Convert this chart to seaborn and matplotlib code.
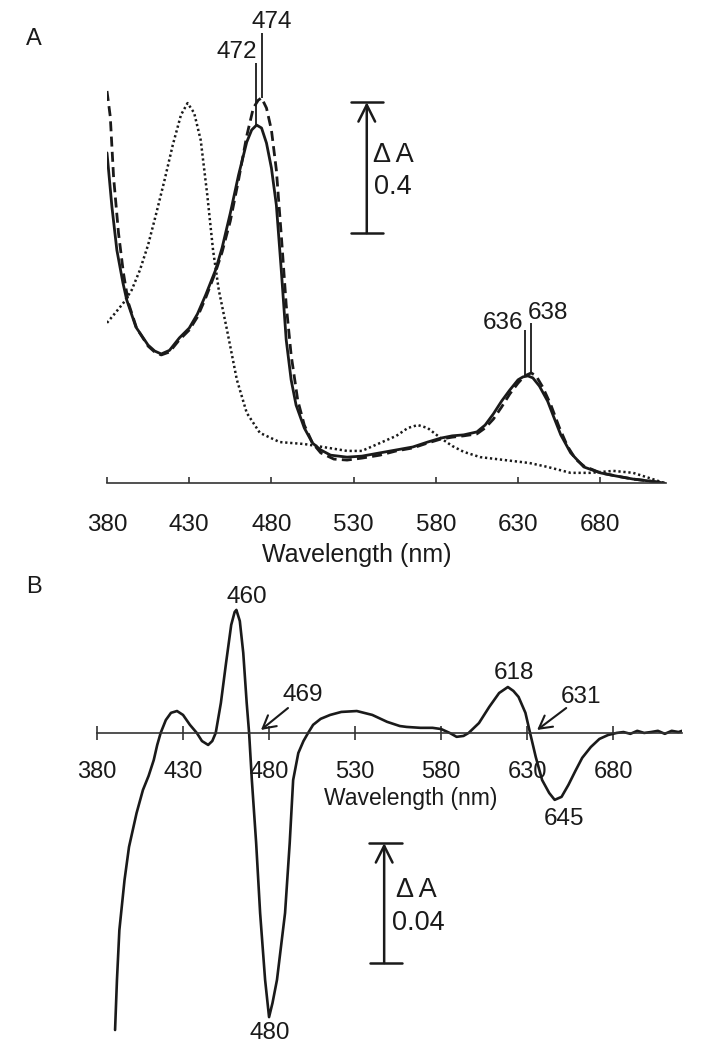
import matplotlib
matplotlib.use("Agg")
import matplotlib.pyplot as plt
import seaborn as sns

# ---------------- data ----------------
ticks = [380, 430, 480, 530, 580, 630, 680]

# Panel A : absorbance spectra
wl_solid = [380, 383, 386, 389.7, 392, 397.6, 405, 409, 413, 418, 424, 430, 435, 440, 446,
            450, 455, 460, 465, 468, 471, 474, 477, 480, 483, 486, 489, 492, 495, 500,
            505, 510, 516, 526, 535, 546, 556, 566, 575, 583, 590, 597, 605, 610, 615,
            620, 625, 630, 633, 636, 639, 643, 648, 652, 656, 662, 670, 680, 690, 700,
            710, 719]
abs_solid = [1.008, 0.843, 0.711, 0.611, 0.559, 0.476, 0.421, 0.403, 0.394, 0.405, 0.443,
             0.473, 0.516, 0.574, 0.650, 0.718, 0.824, 0.940, 1.041, 1.078, 1.093, 1.084,
             1.038, 0.962, 0.849, 0.650, 0.437, 0.315, 0.238, 0.168, 0.122, 0.101, 0.085,
             0.079, 0.082, 0.092, 0.101, 0.110, 0.125, 0.137, 0.144, 0.147, 0.156, 0.177,
             0.211, 0.250, 0.284, 0.315, 0.324, 0.327, 0.321, 0.296, 0.250, 0.198, 0.147,
             0.092, 0.049, 0.031, 0.021, 0.012, 0.006, 0.0]

wl_dashed = [380, 382, 384, 387, 390, 393, 398, 405, 409, 413, 418, 424, 430, 435, 440,
             446, 450, 455, 460, 465, 469, 472, 474, 477, 480, 483, 486, 489, 492, 496,
             500, 505, 510, 518, 526, 535, 546, 556, 566, 575, 583, 590, 597, 605, 610,
             615, 620, 625, 630, 634, 638, 641, 645, 650, 655, 660, 665, 670, 680, 690,
             700, 710, 719]
abs_dashed = [1.197, 1.118, 0.934, 0.763, 0.641, 0.550, 0.473, 0.418, 0.400, 0.391, 0.400,
              0.437, 0.467, 0.507, 0.565, 0.644, 0.705, 0.800, 0.925, 1.060, 1.145, 1.169,
              1.176, 1.145, 1.078, 0.956, 0.757, 0.544, 0.391, 0.253, 0.177, 0.122, 0.092,
              0.073, 0.070, 0.076, 0.085, 0.098, 0.107, 0.122, 0.134, 0.140, 0.144, 0.150,
              0.168, 0.195, 0.232, 0.272, 0.305, 0.327, 0.336, 0.327, 0.293, 0.238, 0.171,
              0.113, 0.073, 0.052, 0.031, 0.021, 0.012, 0.006, 0.0]

wl_dotted = [380, 385, 390, 395, 400, 405, 410, 415, 420, 425, 429, 433, 437, 441, 444.5,
             448, 453, 459, 465, 473, 485, 500, 515, 526, 535, 546, 556, 563, 569, 575,
             583, 590, 597, 607, 617, 627, 637, 648, 662, 674, 688, 700, 710, 719]
abs_dotted = [0.489, 0.519, 0.550, 0.589, 0.650, 0.727, 0.824, 0.925, 1.032, 1.124, 1.160,
              1.130, 1.047, 0.879, 0.711, 0.589, 0.467, 0.315, 0.214, 0.153, 0.125, 0.119,
              0.107, 0.098, 0.098, 0.122, 0.144, 0.168, 0.177, 0.168, 0.137, 0.113, 0.095,
              0.079, 0.073, 0.067, 0.061, 0.049, 0.031, 0.031, 0.037, 0.031, 0.015, 0.0]

# Panel B : difference spectrum
wl_diff = [390.5, 391.6, 393, 396, 398.6, 403, 406.7, 410, 413, 415, 417, 420, 423, 426.5,
           430, 434, 438, 441, 444.6, 447, 449, 452, 455, 458, 460, 461, 463, 465, 467,
           468.4, 470, 472.5, 474.8, 477.7, 480, 482, 484.6, 489.3, 492, 494, 497, 500,
           502.7, 505.6, 510, 515.5, 522, 531, 540, 548.6, 556, 560, 568, 575, 580, 585,
           589, 593, 596, 602, 608, 613.7, 618.8, 622, 625, 629, 631.7, 635, 638.7, 642.8,
           646, 650, 654, 658, 662, 667, 672, 677, 682, 686, 690, 694, 698, 702, 706, 710,
           714, 718, 720]
dA_diff = [-0.0990, -0.0823, -0.0657, -0.0490, -0.0380, -0.0267, -0.0190, -0.0143, -0.0090,
           -0.0040, 0.0, 0.0043, 0.0067, 0.0073, 0.0060, 0.0027, 0.0, -0.0027, -0.0040,
           -0.0027, 0.0, 0.0100, 0.0233, 0.0360, 0.0403, 0.0410, 0.0373, 0.0267, 0.0100,
           0.0, -0.0157, -0.0367, -0.0600, -0.0823, -0.0947, -0.0900, -0.0823, -0.0600,
           -0.0367, -0.0157, -0.0067, -0.0027, 0.0, 0.0027, 0.0047, 0.0060, 0.0070, 0.0073,
           0.0060, 0.0037, 0.0023, 0.0020, 0.0017, 0.0017, 0.0013, 0.0, -0.0013, -0.0010,
           0.0, 0.0033, 0.0087, 0.0133, 0.0153, 0.0140, 0.0120, 0.0067, 0.0, -0.0080,
           -0.0157, -0.0200, -0.0223, -0.0213, -0.0173, -0.0127, -0.0083, -0.0047, -0.0020,
           -0.0007, 0.0, 0.0003, -0.0003, 0.0007, 0.0, 0.0003, 0.0007, -0.0003, 0.0007,
           0.0003, 0.0007]

# peak annotations panel A: (label, line x, line y0, line y1, text x, text y, ha)
peaks_A = [("472", 470.8, 1.093, 1.282, 471.0, 1.316, "right"),
           ("474", 474.3, 1.176, 1.374, 480.4, 1.408, "center"),
           ("636", 634.2, 0.327, 0.467, 633.2, 0.489, "right"),
           ("638", 637.9, 0.336, 0.489, 636.2, 0.519, "left")]
# panel B labels: (label, x, y)
labels_B = [("460", 467.2, 0.0453), ("618", 622.4, 0.0200), ("645", 651.5, -0.0287),
            ("480", 480.6, -0.1000)]
# panel B arrow labels: (label, text x, text y, arrow start, arrow tip)
arrows_B = [("469", 499.8, 0.0127, (491.0, 0.0083), (475.3, 0.0010)),
            ("631", 661.4, 0.0120, (652.7, 0.0083), (635.8, 0.0010))]

# ---------------- style ----------------
sns.set_theme(style="white")
plt.rcParams["font.family"] = ["Liberation Sans", "DejaVu Sans"]
INK = "#1a1a1a"

fig = plt.figure(figsize=(7.09, 10.5), dpi=100)
axA = fig.add_axes([107 / 709, 567 / 1050, 559 / 709, 478.15 / 1050])
axB = fig.add_axes([97 / 709, 5 / 1050, 585 / 709, 475 / 1050])

# ---------------- panel A ----------------
sns.lineplot(x=wl_dotted, y=abs_dotted, ax=axA, color=INK, lw=1.8,
             linestyle=(0, (0.9, 1.1)), estimator=None, sort=False)
sns.lineplot(x=wl_dashed, y=abs_dashed, ax=axA, color=INK, lw=2.0,
             linestyle=(0, (3.6, 1.9)), estimator=None, sort=False)
sns.lineplot(x=wl_solid, y=abs_solid, ax=axA, color=INK, lw=2.0,
             estimator=None, sort=False)

axA.set_xlim(380, 720)
axA.set_ylim(0, 1.46)
axA.set_yticks([])
axA.set_xticks(ticks)
axA.set_xticklabels([str(t) for t in ticks])
for s in ["left", "right", "top"]:
    axA.spines[s].set_visible(False)
axA.spines["bottom"].set_color("#333333")
axA.spines["bottom"].set_linewidth(1.2)
axA.tick_params(axis="x", direction="in", length=4.5, width=1.2, color="#333333",
                pad=22, labelsize=17.5, labelcolor=INK, bottom=True)
axA.set_xlabel("Wavelength (nm)", fontsize=18, color=INK)
axA.xaxis.set_label_coords(0.447, -0.1506)
axA.xaxis.label.set_verticalalignment("center")

for lab, lx, y0, y1, tx, ty, ha in peaks_A:
    axA.plot([lx, lx], [y0, y1], color=INK, lw=1.3, solid_capstyle="butt")
    axA.text(tx, ty, lab, ha=ha, va="center", fontsize=17.5, color=INK)

# scale bar A (0.4)
axA.plot([528.3, 547.9], [1.163, 1.163], color=INK, lw=1.8)
axA.plot([528.3, 547.9], [0.763, 0.763], color=INK, lw=1.8)
axA.annotate("", xy=(538.0, 1.163), xytext=(538.0, 0.763),
             arrowprops=dict(arrowstyle="->,head_length=1.2,head_width=0.6",
                             mutation_scale=10, lw=1.8, color=INK,
                             shrinkA=0, shrinkB=0))
axA.text(541.5, 1.0015, "Δ A", ha="left", va="center", fontsize=19.5, color=INK)
axA.text(542.5, 0.904, "0.4", ha="left", va="center", fontsize=19.5, color=INK)

# ---------------- panel B ----------------
sns.lineplot(x=wl_diff, y=dA_diff, ax=axB, color=INK, lw=1.9,
             estimator=None, sort=False)
axB.set_xlim(380, 720)
axB.set_ylim(-0.104, 0.0543)
axB.set_yticks([])
axB.set_xticks(ticks)
axB.set_xticklabels([str(t) for t in ticks])
for s in ["left", "right", "top"]:
    axB.spines[s].set_visible(False)
axB.spines["bottom"].set_position(("data", 0))
axB.spines["bottom"].set_color("#333333")
axB.spines["bottom"].set_linewidth(1.2)
axB.tick_params(axis="x", direction="inout", length=9.4, width=1.2, color="#333333",
                pad=15.8, labelsize=17, labelcolor=INK, bottom=True)
axB.set_xlabel("Wavelength (nm)", fontsize=16.5, color=INK)
axB.xaxis.set_label_coords(0.537, 0.52)
axB.xaxis.label.set_verticalalignment("center")

for lab, x, y in labels_B:
    axB.text(x, y, lab, ha="center", va="center", fontsize=17.5, color=INK)
for lab, tx, ty, start, tip in arrows_B:
    axB.text(tx, ty, lab, ha="center", va="center", fontsize=17.5, color=INK)
    axB.annotate("", xy=tip, xytext=start,
                 arrowprops=dict(arrowstyle="->,head_length=0.9,head_width=0.5",
                                 mutation_scale=10, lw=1.5, color=INK,
                                 shrinkA=0, shrinkB=0))

# scale bar B (0.04)
axB.plot([538.0, 557.0], [-0.0367, -0.0367], color=INK, lw=1.8)
axB.plot([538.5, 557.5], [-0.0767, -0.0767], color=INK, lw=1.8)
axB.annotate("", xy=(546.9, -0.0367), xytext=(546.9, -0.0767),
             arrowprops=dict(arrowstyle="->,head_length=1.2,head_width=0.6",
                             mutation_scale=10, lw=1.8, color=INK,
                             shrinkA=0, shrinkB=0))
axB.text(554.0, -0.0523, "Δ A", ha="left", va="center", fontsize=19.5, color=INK)
axB.text(551.5, -0.0633, "0.04", ha="left", va="center", fontsize=19.5, color=INK)

# panel letters
fig.text(34 / 709, 1 - 39 / 1050, "A", ha="center", va="center", fontsize=17, color=INK)
fig.text(34 / 709, 1 - 587 / 1050, "B", ha="center", va="center", fontsize=17, color=INK)

fig.savefig("out.png", dpi=100)
